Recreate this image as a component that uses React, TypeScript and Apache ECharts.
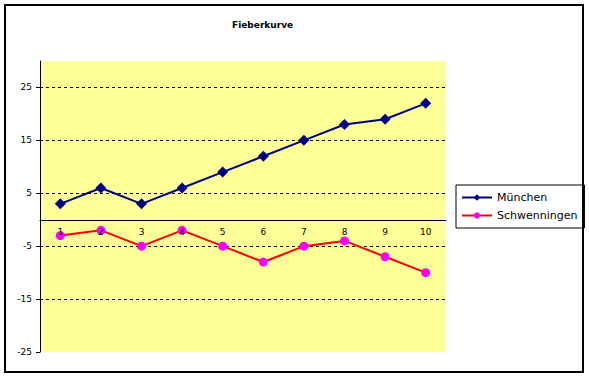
import React, { useEffect, useRef } from "react";
import * as echarts from "echarts";

const categories = ["1", "2", "3", "4", "5", "6", "7", "8", "9", "10"];
const muenchen = [3, 6, 3, 6, 9, 12, 15, 18, 19, 22];
const schwenningen = [-3, -2, -5, -2, -5, -8, -5, -4, -7, -10];
const yMin = -25;
const yMax = 30;
const yInterval = 10;

const W = 589;
const H = 378;
const gridTop = 61;
const gridBottom = 26;

export default function App() {
  const ref = useRef<HTMLDivElement>(null);
  useEffect(() => {
    if (!ref.current) return;
    const chart = echarts.init(ref.current, null, { renderer: "svg" });
    const font = "DejaVu Sans";
    const plotH = H - gridTop - gridBottom;
    const zeroOffset = -Math.round(((0 - yMin) / (yMax - yMin)) * plotH);
    chart.setOption({
      animation: false,
      backgroundColor: "#ffffff",
      title: {
        text: "Fieberkurve",
        left: 227,
        top: 15,
        textStyle: { fontFamily: font, fontSize: 9, fontWeight: "bold", color: "#000" },
      },
      legend: {
        orient: "vertical",
        left: 456,
        top: 185,
        padding: [7, 7, 7, 5],
        itemGap: 7,
        itemWidth: 30,
        itemHeight: 8,
        borderColor: "#000",
        borderWidth: 1,
        textStyle: { fontFamily: font, fontSize: 11, color: "#000" },
        data: ["München", "Schwenningen"],
      },
      grid: {
        left: 40,
        top: gridTop,
        right: 143,
        bottom: gridBottom,
        show: true,
        backgroundColor: "#FFFF99",
        borderWidth: 0,
      },
      xAxis: {
        type: "category",
        data: categories,
        boundaryGap: true,
        offset: zeroOffset,
        z: 10,
        axisLine: { onZero: false, lineStyle: { color: "#000", width: 1 } },
        axisTick: { inside: true, length: 3, lineStyle: { color: "#000" } },
        axisLabel: { fontFamily: font, fontSize: 9, color: "#000", margin: 7 },
        splitLine: { show: false },
      },
      yAxis: {
        type: "value",
        min: yMin,
        max: yMax,
        interval: yInterval,
        axisLine: { show: true, lineStyle: { color: "#000", width: 1 } },
        axisTick: { show: true, length: 4, lineStyle: { color: "#000" } },
        axisLabel: {
          fontFamily: font,
          fontSize: 9,
          color: "#000",
          margin: 8,
          showMaxLabel: false,
          formatter: (v: number) => (v === yMax ? "" : String(v)),
        },
        splitLine: {
          show: true,
          lineStyle: {
            type: [3, 3],
            width: 1,
            color: ["transparent", "#000", "#000", "#000", "#000", "#000", "transparent"],
          },
        },
      },
      series: [
        {
          name: "München",
          type: "line",
          data: muenchen,
          symbol: "diamond",
          symbolSize: 11,
          lineStyle: { color: "#000080", width: 2 },
          itemStyle: { color: "#000080" },
          z: 3,
        },
        {
          name: "Schwenningen",
          type: "line",
          data: schwenningen,
          symbol: "circle",
          symbolSize: 9,
          lineStyle: { color: "#FF0000", width: 2 },
          itemStyle: { color: "#FF00FF" },
          z: 3,
        },
      ],
      graphic: [
        {
          type: "rect",
          shape: { x: 5, y: 5, width: 578, height: 367 },
          style: { fill: "none", stroke: "#000", lineWidth: 2 },
          silent: true,
        },
      ],
    });
    return () => chart.dispose();
  }, []);
  return (
    <div
      ref={ref}
      style={{ position: "fixed", left: 0, top: 0, width: W, height: H, background: "#fff" }}
    />
  );
}
